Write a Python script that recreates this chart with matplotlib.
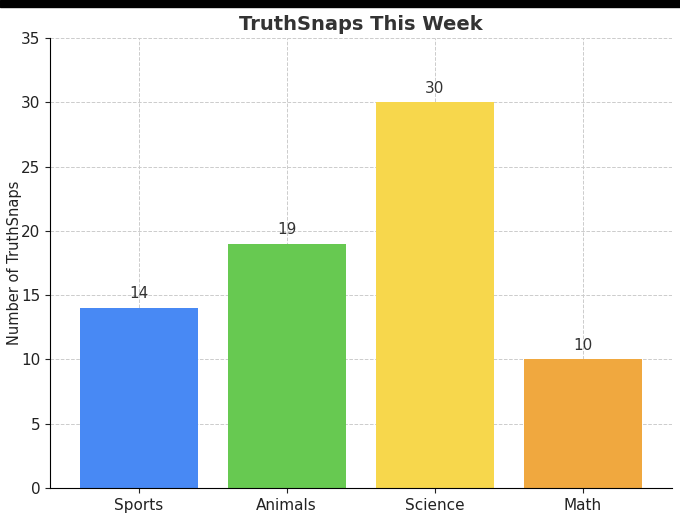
import matplotlib.pyplot as plt
from matplotlib.patches import Rectangle

categories = ['Sports', 'Animals', 'Science', 'Math']
counts = [14, 19, 30, 10]
colors = ['#4889F4', '#67C951', '#F7D74C', '#F0A83F']

fig = plt.figure(figsize=(6.8, 5.13), dpi=100)
ax = fig.add_axes([0.0735, 0.049, 0.914, 0.877])

bars = ax.bar(categories, counts, color=colors, width=0.8, zorder=2)
for b, v in zip(bars, counts):
    ax.text(b.get_x() + b.get_width() / 2, v + 0.5, str(v),
            ha='center', va='bottom', fontsize=11, color='#333333')

ax.set_ylim(0, 35)
ax.set_xlim(-0.6, 3.6)
ax.set_ylabel('Number of TruthSnaps', fontsize=10.5, color='#222222', labelpad=-1)
ax.set_title('TruthSnaps This Week', fontsize=14, fontweight='bold',
             color='#333333', pad=6)
ax.grid(True, linestyle='--', linewidth=0.7, color='#cccccc', zorder=0)
ax.spines['top'].set_visible(False)
ax.spines['right'].set_visible(False)
ax.tick_params(labelsize=11, colors='#222222')

# dark strip along the top edge of the screenshot
fig.patches.append(Rectangle((0, 0.986), 1, 0.014, transform=fig.transFigure,
                             color='black', zorder=10))

plt.savefig('out.png', dpi=100)
